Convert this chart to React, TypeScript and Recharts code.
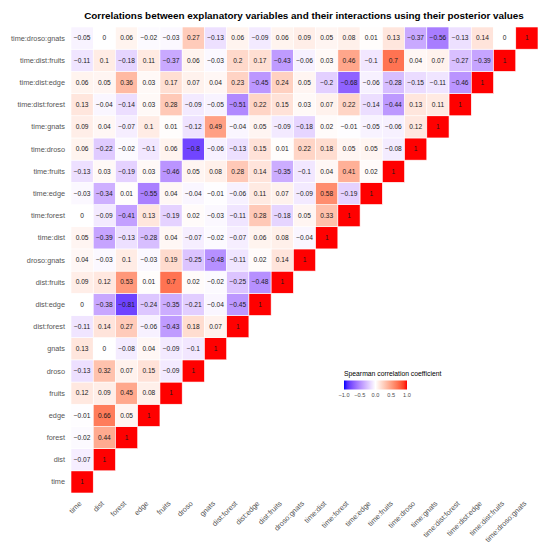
import { ScatterChart, Scatter, XAxis, YAxis } from "recharts";

// variable names, bottom row / left column first
const vars = [
  "time", "dist", "forest", "edge", "fruits", "droso", "gnats",
  "dist:forest", "dist:edge", "dist:fruits", "droso:gnats",
  "time:dist", "time:forest", "time:edge", "time:fruits", "time:droso", "time:gnats",
  "time:dist:forest", "time:dist:edge", "time:dist:fruits", "time:droso:gnats",
];

// one array per row of the lower triangle (values left to right)
const rTime = [1];
const rDist = [-0.07, 1];
const rForest = [-0.02, 0.44, 1];
const rEdge = [-0.01, 0.66, 0.05, 1];
const rFruits = [0.12, 0.09, 0.45, 0.08, 1];
const rDroso = [-0.13, 0.32, 0.07, 0.15, -0.09, 1];
const rGnats = [0.13, 0, -0.08, 0.04, -0.09, -0.1, 1];
const rDistForest = [-0.11, 0.14, 0.27, -0.06, -0.43, 0.18, 0.07, 1];
const rDistEdge = [0, -0.38, -0.81, -0.24, -0.35, -0.21, -0.04, -0.45, 1];
const rDistFruits = [0.09, 0.12, 0.53, 0.01, 0.7, 0.02, -0.02, -0.25, -0.48, 1];
const rDrosoGnats = [0.04, -0.03, 0.1, -0.03, 0.19, -0.25, -0.48, -0.11, 0.02, 0.14, 1];
const rTimeDist = [0.05, -0.39, -0.13, -0.28, 0.04, -0.07, -0.02, -0.07, 0.06, 0.08, -0.04, 1];
const rTimeForest = [0, -0.09, -0.41, 0.13, -0.19, 0.02, -0.03, -0.11, 0.28, -0.18, 0.05, 0.33, 1];
const rTimeEdge = [-0.03, -0.34, 0.01, -0.55, 0.04, -0.04, -0.01, -0.06, 0.11, 0.07, -0.09, 0.58, -0.19, 1];
const rTimeFruits = [-0.13, 0.03, -0.19, 0.03, -0.46, 0.05, 0.08, 0.28, 0.14, -0.35, -0.1, 0.04, 0.41, 0.02, 1];
const rTimeDroso = [0.06, -0.22, -0.02, -0.1, 0.06, -0.8, -0.06, -0.13, 0.15, 0.01, 0.22, 0.18, 0.05, 0.05, -0.08, 1];
const rTimeGnats = [0.09, 0.04, -0.07, 0.1, 0.01, -0.12, 0.49, -0.04, 0.05, -0.09, -0.18, 0.02, -0.01, -0.05, -0.06, 0.12, 1];
const rTimeDistForest = [0.13, -0.04, -0.14, 0.03, 0.28, -0.09, -0.05, -0.51, 0.22, 0.15, 0.03, 0.07, 0.22, -0.14, -0.44, 0.13, 0.11, 1];
const rTimeDistEdge = [0.06, 0.05, 0.36, 0.03, 0.17, 0.07, 0.04, 0.23, -0.45, 0.24, 0.05, -0.2, -0.68, -0.06, -0.28, -0.15, -0.11, -0.46, 1];
const rTimeDistFruits = [-0.11, 0.1, -0.18, 0.11, -0.37, 0.06, -0.03, 0.2, 0.17, -0.43, -0.06, 0.03, 0.46, -0.1, 0.7, 0.04, 0.07, -0.27, -0.39, 1];
const rTimeDrosoGnats = [-0.05, 0, 0.06, -0.02, -0.03, 0.27, -0.13, 0.06, -0.09, 0.06, 0.09, 0.05, 0.08, 0.01, 0.13, -0.37, -0.56, -0.13, 0.14, 0, 1];

const rows = [
  rTime, rDist, rForest, rEdge, rFruits, rDroso, rGnats, rDistForest, rDistEdge,
  rDistFruits, rDrosoGnats, rTimeDist, rTimeForest, rTimeEdge, rTimeFruits,
  rTimeDroso, rTimeGnats, rTimeDistForest, rTimeDistEdge, rTimeDistFruits, rTimeDrosoGnats,
];

const legendTicks = [-1, -0.5, 0, 0.5, 1];

const W = 547;
const H = 550;
const M = { top: 27, right: 9, bottom: 0, left: 0 };
const YW = 71;
const XH = 57;
const cellW = (W - M.left - M.right - YW) / vars.length;
const cellH = (H - M.top - M.bottom - XH) / vars.length;
const FONT = "'Liberation Sans', Arial, Helvetica, sans-serif";

// --- Lab colour ramp (white mid, blue low, red high) ---
type Lab = [number, number, number];
const lin = (c: number) => { c /= 255; return c <= 0.04045 ? c / 12.92 : ((c + 0.055) / 1.055) ** 2.4; };
const gam = (c: number) => (c <= 0.0031308 ? 12.92 * c : 1.055 * c ** (1 / 2.4) - 0.055);
function toLab(hex: string): Lab {
  const r = lin(parseInt(hex.slice(1, 3), 16));
  const g = lin(parseInt(hex.slice(3, 5), 16));
  const b = lin(parseInt(hex.slice(5, 7), 16));
  const X = (0.4124564 * r + 0.3575761 * g + 0.1804375 * b) / 0.95047;
  const Y = 0.2126729 * r + 0.7151522 * g + 0.072175 * b;
  const Z = (0.0193339 * r + 0.119192 * g + 0.9503041 * b) / 1.08883;
  const f = (t: number) => (t > 216 / 24389 ? Math.cbrt(t) : (24389 / 27 * t + 16) / 116);
  const fx = f(X), fy = f(Y), fz = f(Z);
  return [116 * fy - 16, 500 * (fx - fy), 200 * (fy - fz)];
}
function fromLab([L, a, bb]: Lab): string {
  const fy = (L + 16) / 116;
  const fx = fy + a / 500;
  const fz = fy - bb / 200;
  const fi = (f: number) => (f ** 3 > 216 / 24389 ? f ** 3 : (116 * f - 16) / (24389 / 27));
  const X = fi(fx) * 0.95047, Y = fi(fy), Z = fi(fz) * 1.08883;
  const r = 3.2404542 * X - 1.5371385 * Y - 0.4985314 * Z;
  const g = -0.969266 * X + 1.8760108 * Y + 0.041556 * Z;
  const b = 0.0556434 * X - 0.2040259 * Y + 1.0572252 * Z;
  const h = (c: number) => Math.round(Math.min(1, Math.max(0, gam(c))) * 255).toString(16).padStart(2, "0");
  return "#" + h(r) + h(g) + h(b);
}
const LOW = toLab("#0000FF");
const MID = toLab("#FFFFFF");
const HIGH = toLab("#FF0000");
function fillFor(v: number) {
  const end = v < 0 ? LOW : HIGH;
  const t = Math.min(1, Math.abs(v));
  return fromLab([MID[0] + (end[0] - MID[0]) * t, MID[1] + (end[1] - MID[1]) * t, MID[2] + (end[2] - MID[2]) * t]);
}

const fmt = (v: number) => (v < 0 ? "\u2212" + String(Math.abs(v)) : String(v));

const cells = rows.flatMap((row, y) => row.map((v, x) => ({ x, y, v })));

const Tile = (props: any) => {
  const { cx, cy, payload } = props;
  return (
    <g>
      <rect x={cx - cellW / 2} y={cy - cellH / 2} width={cellW} height={cellH}
        fill={fillFor(payload.v)} stroke="#ffffff" strokeWidth={0.6} />
      <text x={cx} y={cy + 2.3} textAnchor="middle" fontSize={6.6} fontFamily={FONT} fill="#1a1a1a">
        {fmt(payload.v)}
      </text>
    </g>
  );
};

const xLabelY = H - M.bottom - XH + 11;
const yLabelX = M.left + YW - 6;

const renderXTick = (props: any) => {
  const { x, payload } = props;
  const px = x;
  const py = xLabelY;
  return (
    <text x={px} y={py} transform={`rotate(-45 ${px} ${py})`} textAnchor="end"
      fontSize={7.4} fontFamily={FONT} fill="#555555">
      {vars[payload.value]}
    </text>
  );
};

const renderYTick = (props: any) => {
  const { y, payload } = props;
  return (
    <text x={yLabelX} y={y} dy="0.35em" textAnchor="end" fontSize={7.3} fontFamily={FONT} fill="#555555">
      {vars[payload.value]}
    </text>
  );
};

const gradStops = Array.from({ length: 21 }, (_, i) => -1 + i * 0.1);

export default function App() {
  const idx = vars.map((_, i) => i);
  const bar = { x: 344, y: 380.5, w: 63, h: 9 };
  return (
    <div style={{ position: "absolute", left: 0, top: 0, width: W, height: H, background: "#fff" }}>
      <ScatterChart width={W} height={H} margin={M}>
        <XAxis type="number" dataKey="x" domain={[-0.5, vars.length - 0.5]} ticks={idx} interval={0}
          tick={renderXTick} tickLine={false} axisLine={false} height={XH} />
        <YAxis type="number" dataKey="y" domain={[-0.5, vars.length - 0.5]} ticks={idx} interval={0}
          tick={renderYTick} tickLine={false} axisLine={false} width={YW} />
        <Scatter data={cells} shape={<Tile />} isAnimationActive={false} />
      </ScatterChart>
      <svg width={W} height={H} style={{ position: "absolute", left: 0, top: 0, pointerEvents: "none" }}>
        <defs>
          <linearGradient id="cbar" x1="0" x2="1" y1="0" y2="0">
            {gradStops.map((v) => (
              <stop key={v} offset={(v + 1) / 2} stopColor={fillFor(v)} />
            ))}
          </linearGradient>
        </defs>
        <text x={304} y={19} textAnchor="middle" fontSize={9.9} fontWeight="bold" fontFamily={FONT} fill="#000">
          Correlations between explanatory variables and their interactions using their posterior values
        </text>
        <text x={bar.x} y={376} fontSize={6.8} fontFamily={FONT} fill="#000">
          Spearman correlation coefficient
        </text>
        <rect x={bar.x} y={bar.y} width={bar.w} height={bar.h} fill="url(#cbar)" />
        {legendTicks.map((t) => (
          <text key={t} x={bar.x + ((t + 1) / 2) * bar.w} y={396.5} textAnchor="middle" fontSize={5.6}
            fontFamily={FONT} fill="#4d4d4d">
            {fmt(t) + (Number.isInteger(t) ? ".0" : "")}
          </text>
        ))}
      </svg>
    </div>
  );
}
